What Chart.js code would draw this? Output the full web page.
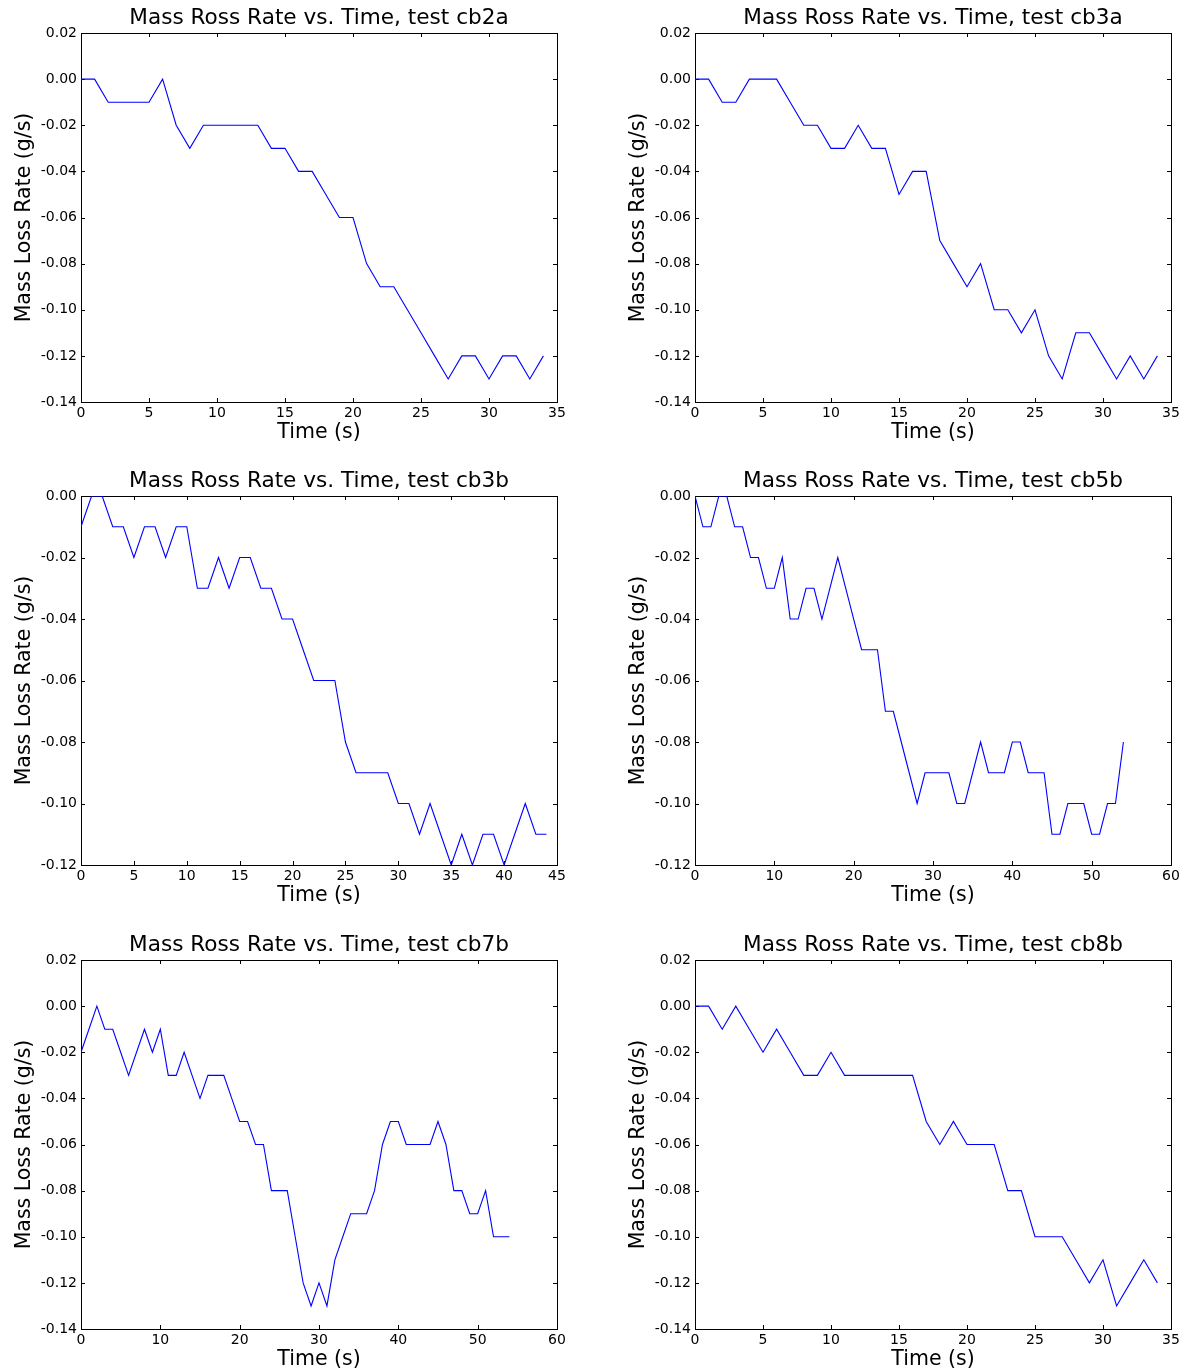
<!DOCTYPE html>
<html>
<head>
<meta charset="utf-8">
<title>Mass Loss Rate vs. Time</title>
<script src="https://cdn.jsdelivr.net/npm/chart.js@4.4.1/dist/chart.umd.min.js"></script>
<style>
  html, body { margin: 0; padding: 0; background: #fff; overflow: hidden; }
  #page { position: relative; width: 1193px; height: 1372px; }
  .panel { position: absolute; width: 579px; height: 445px; }
</style>
</head>
<body>
<div id="page">
  <div class="panel" style="left:0;top:0"><canvas id="cb2a" width="579" height="445"></canvas></div>
  <div class="panel" style="left:614px;top:0"><canvas id="cb3a" width="579" height="445"></canvas></div>
  <div class="panel" style="left:0;top:463px"><canvas id="cb3b" width="579" height="445"></canvas></div>
  <div class="panel" style="left:614px;top:463px"><canvas id="cb5b" width="579" height="445"></canvas></div>
  <div class="panel" style="left:0;top:927px"><canvas id="cb7b" width="579" height="445"></canvas></div>
  <div class="panel" style="left:614px;top:927px"><canvas id="cb8b" width="579" height="445"></canvas></div>
</div>
<script>
//################ data (g/s, one sample per second) #############################

var cb2a_rate = [0, 0, -0.01, -0.01, -0.01, -0.01, 0, -0.02, -0.03, -0.02, -0.02, -0.02, -0.02, -0.02, -0.03, -0.03,
    -0.04, -0.04, -0.05, -0.06, -0.06, -0.08, -0.09, -0.09, -0.10, -0.11, -0.12, -0.13, -0.12, -0.12, -0.13,
    -0.12, -0.12, -0.13, -0.12];

var cb3a_rate = [0, 0, -0.01, -0.01, 0, 0, 0, -0.01, -0.02, -0.02, -0.03, -0.03, -0.02, -0.03, -0.03, -0.05,
    -0.04, -0.04, -0.07, -0.08, -0.09, -0.08, -0.10, -0.10, -0.11, -0.10, -0.12, -0.13, -0.11, -0.11, -0.12,
    -0.13, -0.12, -0.13, -0.12];

var cb3b_rate = [-0.01, 0, 0, -0.01, -0.01, -0.02, -0.01, -0.01, -0.02, -0.01, -0.01, -0.03, -0.03, -0.02, -0.03,
    -0.02, -0.02, -0.03, -0.03, -0.04, -0.04, -0.05, -0.06, -0.06, -0.06, -0.08, -0.09, -0.09, -0.09, -0.09,
    -0.10, -0.10, -0.11, -0.10, -0.11, -0.12, -0.11, -0.12, -0.11, -0.11, -0.12, -0.11, -0.10, -0.11, -0.11];

var cb5b_rate = [0, -0.01, -0.01, 0, 0, -0.01, -0.01, -0.02, -0.02, -0.03, -0.03, -0.02, -0.04, -0.04, -0.03,
    -0.03, -0.04, -0.03, -0.02, -0.03, -0.04, -0.05, -0.05, -0.05, -0.07, -0.07, -0.08, -0.09, -0.10, -0.09,
    -0.09, -0.09, -0.09, -0.10, -0.10, -0.09, -0.08, -0.09, -0.09, -0.09, -0.08, -0.08, -0.09, -0.09, -0.09,
    -0.11, -0.11, -0.10, -0.10, -0.10, -0.11, -0.11, -0.10, -0.10, -0.08];

var cb7b_rate = [-0.02, -0.01, 0, -0.01, -0.01, -0.02, -0.03, -0.02, -0.01, -0.02, -0.01, -0.03, -0.03, -0.02,
    -0.03, -0.04, -0.03, -0.03, -0.03, -0.04, -0.05, -0.05, -0.06, -0.06, -0.08, -0.08, -0.08, -0.10, -0.12,
    -0.13, -0.12, -0.13, -0.11, -0.10, -0.09, -0.09, -0.09, -0.08, -0.06, -0.05, -0.05, -0.06, -0.06, -0.06,
    -0.06, -0.05, -0.06, -0.08, -0.08, -0.09, -0.09, -0.08, -0.10, -0.10, -0.10];

var cb8b_rate = [0, 0, -0.01, 0, -0.01, -0.02, -0.01, -0.02, -0.03, -0.03, -0.02, -0.03, -0.03, -0.03, -0.03,
    -0.03, -0.03, -0.05, -0.06, -0.05, -0.06, -0.06, -0.06, -0.08, -0.08, -0.10, -0.10, -0.10, -0.11, -0.12,
    -0.11, -0.13, -0.12, -0.11, -0.12];

// axis limits: [xMax, xStep, yMin, yMax]
var cb2a_axes = [35, 5, -0.14, 0.02];
var cb3a_axes = [35, 5, -0.14, 0.02];
var cb3b_axes = [45, 5, -0.12, 0.00];
var cb5b_axes = [60, 10, -0.12, 0.00];
var cb7b_axes = [60, 10, -0.14, 0.02];
var cb8b_axes = [35, 5, -0.14, 0.02];

//################ frame + inward ticks #############################

Chart.defaults.font.family = "'DejaVu Sans', sans-serif";
Chart.defaults.color = '#000';

var framePlugin = {
    id: 'frame',
    beforeDatasetsDraw: function(chart) {
        var ctx = chart.ctx;
        var a = chart.chartArea;
        var xs = chart.scales.x, ys = chart.scales.y;
        ctx.save();
        ctx.strokeStyle = '#000';
        ctx.lineWidth = 1;
        ctx.beginPath();
        xs.ticks.forEach(function(t) {
            var px = Math.round(xs.getPixelForValue(t.value)) + 0.5;
            ctx.moveTo(px, a.bottom); ctx.lineTo(px, a.bottom - 4);
            ctx.moveTo(px, a.top); ctx.lineTo(px, a.top + 4);
        });
        ys.ticks.forEach(function(t) {
            var py = Math.round(ys.getPixelForValue(t.value)) + 0.5;
            ctx.moveTo(a.left, py); ctx.lineTo(a.left + 4, py);
            ctx.moveTo(a.right, py); ctx.lineTo(a.right - 4, py);
        });
        ctx.stroke();
        ctx.strokeRect(Math.round(a.left) + 0.5, Math.round(a.top) + 0.5,
            Math.round(a.right - a.left), Math.round(a.bottom - a.top));
        ctx.restore();
    }
};

//################ one panel #############################

function makeChart(id, rate, axes) {
    var points = rate.map(function(v, i) { return { x: i, y: v }; });

    new Chart(document.getElementById(id), {
        type: 'line',
        data: {
            datasets: [{
                data: points,
                borderColor: '#0000ff',
                borderWidth: 1.1,
                pointRadius: 0,
                tension: 0,
                fill: false
            }]
        },
        plugins: [framePlugin],
        options: {
            responsive: false,
            animation: false,
            events: [],
            layout: { padding: { left: 0, right: 22, top: 0, bottom: 0 } },
            plugins: {
                legend: { display: false },
                tooltip: { enabled: false },
                title: {
                    display: true,
                    fullSize: false,   // center over the plot area, like matplotlib
                    text: 'Mass Ross Rate vs. Time, test ' + id,
                    color: '#000',
                    font: { size: 21.6, weight: 'normal' },
                    padding: { top: 5.5, bottom: 1.6 }
                }
            },
            scales: {
                x: {
                    type: 'linear',
                    min: 0,
                    max: axes[0],
                    grid: { display: false, drawTicks: false },
                    border: { display: false },
                    ticks: {
                        stepSize: axes[1],
                        autoSkip: false,
                        maxRotation: 0,
                        padding: 3,
                        color: '#000',
                        font: { size: 14 }
                    },
                    title: {
                        display: true,
                        text: 'Time (s)',
                        color: '#000',
                        font: { size: 20.5 },
                        padding: { top: 0, bottom: 0 }
                    },
                    afterFit: function(s) { s.height = 43; }
                },
                y: {
                    type: 'linear',
                    min: axes[2],
                    max: axes[3],
                    grid: { display: false, drawTicks: false },
                    border: { display: false },
                    ticks: {
                        stepSize: 0.02,
                        padding: 4,
                        color: '#000',
                        font: { size: 14 },
                        callback: function(v) {
                            if (Math.abs(v) < 1e-9) return '0.00';
                            return v.toFixed(2);
                        }
                    },
                    title: {
                        display: true,
                        text: 'Mass Loss Rate (g/s)',
                        color: '#000',
                        font: { size: 20.5 },
                        padding: { top: 12.5, bottom: 0 }
                    },
                    afterFit: function(s) { s.width = 81; }
                }
            }
        }
    });
}

makeChart('cb2a', cb2a_rate, cb2a_axes);
makeChart('cb3a', cb3a_rate, cb3a_axes);
makeChart('cb3b', cb3b_rate, cb3b_axes);
makeChart('cb5b', cb5b_rate, cb5b_axes);
makeChart('cb7b', cb7b_rate, cb7b_axes);
makeChart('cb8b', cb8b_rate, cb8b_axes);
</script>
</body>
</html>
